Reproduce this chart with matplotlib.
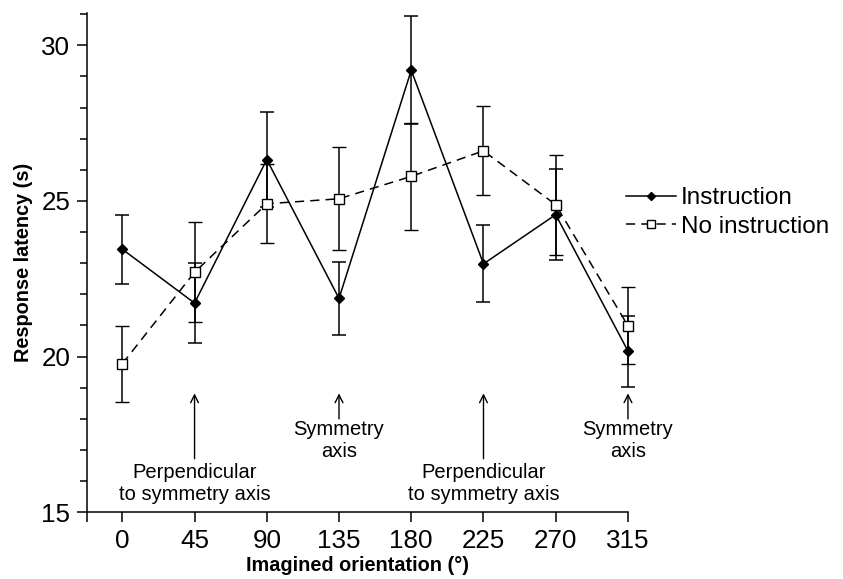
import matplotlib
matplotlib.use("Agg")
import matplotlib.pyplot as plt
from matplotlib.ticker import MultipleLocator

plt.rcParams['font.family'] = ['Liberation Sans', 'DejaVu Sans']

# ------------------------------ data ------------------------------ #
orientation = [0, 45, 90, 135, 180, 225, 270, 315]
instruction = [23.45, 21.72, 26.33, 21.87, 29.20, 22.98, 24.56, 20.18]
instruction_err = [1.11, 1.29, 1.52, 1.18, 1.73, 1.24, 1.46, 1.14]
no_instruction = [19.77, 22.71, 24.91, 25.07, 25.79, 26.61, 24.88, 20.99]
no_instruction_err = [1.22, 1.60, 1.27, 1.65, 1.71, 1.43, 1.60, 1.24]

tick_labels = ['0', '45', '90', '135', '180', '225', '270', '315']
notes = [(45, "Perpendicular\nto symmetry axis"),
         (135, "Symmetry\naxis"),
         (225, "Perpendicular\nto symmetry axis"),
         (315, "Symmetry\naxis")]

# ------------------------------ figure ------------------------------ #
fig = plt.figure(figsize=(8.43, 5.79), dpi=100)
ax = fig.add_axes([0.1032, 0.1152, 0.6417, 0.8625])

ax.errorbar(orientation, instruction, yerr=instruction_err, color='black',
            lw=1.1, elinewidth=1.1, capsize=5, capthick=1.1, marker='D',
            ms=5, mfc='black', mec='black', label='Instruction',
            clip_on=False, zorder=3)
ax.errorbar(orientation, no_instruction, yerr=no_instruction_err,
            color='black', lw=1.1, elinewidth=1.1, capsize=5, capthick=1.1,
            marker='s', ms=7.5, mfc='white', mec='black', mew=1.0,
            ls=(0, (6, 4)), label='No instruction', clip_on=False, zorder=4)

# arrows + text notes
for x, txt in notes:
    short = txt.startswith("Symmetry")
    tail = 18.0 if short else 16.72
    ax.annotate('', xy=(x, 18.82), xytext=(x, tail),
                arrowprops=dict(arrowstyle='->', lw=1.0, color='black',
                                shrinkA=0, shrinkB=0, mutation_scale=14))
    y_txt = 17.30 if short else 15.94
    ax.text(x, y_txt, txt, ha='center', va='center', fontsize=14.5,
            linespacing=1.2)

ax.set_xlim(-22, 315)
ax.set_ylim(15, 31.04)
ax.set_xticks([-22] + orientation)
ax.set_xticklabels([''] + tick_labels)
ax.set_yticks([15, 20, 25, 30])
ax.yaxis.set_minor_locator(MultipleLocator(1))

ax.spines['top'].set_visible(False)
ax.spines['right'].set_visible(False)
for s in ('left', 'bottom'):
    ax.spines[s].set_linewidth(1.1)
ax.tick_params(axis='both', which='major', direction='out', length=7,
               width=1.1, labelsize=18.7, pad=5)
ax.tick_params(axis='y', which='minor', direction='out', length=5, width=1.1)

ax.set_xlabel('Imagined orientation (°)', fontsize=14.3, fontweight='bold',
              labelpad=2)
ax.set_ylabel('Response latency (s)', fontsize=14.3, fontweight='bold',
              labelpad=6)

handles, labels = ax.get_legend_handles_labels()
handles = [h[0] for h in handles]
fig.legend(handles, labels, loc='center left', bbox_to_anchor=(0.7425, 0.633),
           frameon=False, fontsize=17.5, handlelength=2.05,
           handletextpad=0.2, labelspacing=0.25, borderaxespad=0,
           borderpad=0, markerscale=0.8)

fig.savefig('out.png', dpi=100)
